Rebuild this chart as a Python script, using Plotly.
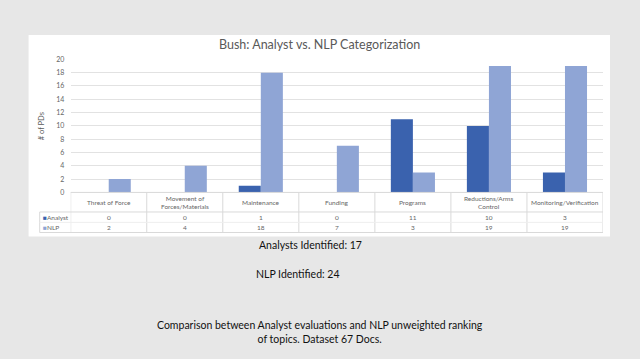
import plotly.graph_objects as go

categories = ["Threat of Force", "Movement of Forces/Materials", "Maintenance", "Funding",
              "Programs", "Reductions/Arms Control", "Monitoring/Verification"]
category_labels = ["Threat of Force", "Movement of<br>Forces/Materials", "Maintenance", "Funding",
                   "Programs", "Reductions/Arms<br>Control", "Monitoring/Verification"]
analyst = [0, 0, 1, 0, 11, 10, 3]
nlp = [2, 4, 18, 7, 3, 19, 19]
y_ticks = list(range(0, 21, 2))
title = "Bush: Analyst vs. NLP Categorization"
note_analyst = "Analysts Identified: 17"
note_nlp = "NLP Identified: 24"
caption = "Comparison between Analyst evaluations and NLP unweighted ranking<br>of topics. Dataset 67 Docs."

W, H = 640, 359
def px(x): return x / W
def py(y): return 1 - y / H

C_AN = "#3A62AE"
C_NLP = "#8FA5D5"
TXT = "#595959"
FONT = "Lato"

fig = go.Figure()
fig.add_trace(go.Bar(x=categories, y=analyst, name="Analyst", marker=dict(color=C_AN, line=dict(width=0))))
fig.add_trace(go.Bar(x=categories, y=nlp, name="NLP", marker=dict(color=C_NLP, line=dict(width=0))))

shapes = []
shapes.append(dict(type="rect", xref="paper", yref="paper", x0=px(28.6), x1=px(610), y0=py(236.7), y1=py(30.6),
                   fillcolor="white", line=dict(width=0), layer="below"))
LINE = dict(color="#d9d9d9", width=1)
n = len(categories)
for i in range(n + 1):
    shapes.append(dict(type="line", xref="x", yref="paper", x0=i - 0.5, x1=i - 0.5,
                       y0=py(232.7), y1=py(191.7), line=LINE))
shapes.append(dict(type="line", xref="paper", yref="paper", x0=px(39.7), x1=px(39.7),
                   y0=py(232.7), y1=py(211.7), line=LINE))
shapes.append(dict(type="line", xref="paper", yref="paper", x0=px(39.7), x1=px(603),
                   y0=py(211.7), y1=py(211.7), line=LINE))
shapes.append(dict(type="line", xref="paper", yref="paper", x0=px(39.7), x1=px(603),
                   y0=py(222.3), y1=py(222.3), line=dict(color="#eeeeee", width=1)))
shapes.append(dict(type="line", xref="paper", yref="paper", x0=px(39.7), x1=px(603),
                   y0=py(232.7), y1=py(232.7), line=LINE))
shapes.append(dict(type="line", xref="paper", yref="paper", x0=px(70.7), x1=px(603),
                   y0=py(191.7), y1=py(191.7), line=LINE))

TF = dict(family=FONT, size=6.5, color="#666666")
ann = []
ann.append(dict(text=title, xref="paper", yref="paper", x=px(319), y=py(40),
                showarrow=False, font=dict(family=FONT, size=12.5, color=TXT), xanchor="center", yanchor="middle"))
ann.append(dict(text="# of PDs", xref="paper", yref="paper", x=px(41), y=py(124), textangle=-90,
                showarrow=False, font=dict(family=FONT, size=7.5, color=TXT), xanchor="center", yanchor="middle"))
for c, lab, a, b in zip(categories, category_labels, analyst, nlp):
    ann.append(dict(text=lab, xref="x", yref="paper", x=c, y=py(201.7), showarrow=False,
                    font=TF, xanchor="center", yanchor="middle"))
    ann.append(dict(text=str(a), xref="x", yref="paper", x=c, y=py(217.3), showarrow=False,
                    font=TF, xanchor="center", yanchor="middle"))
    ann.append(dict(text=str(b), xref="x", yref="paper", x=c, y=py(227.8), showarrow=False,
                    font=TF, xanchor="center", yanchor="middle"))
ann.append(dict(text=f"<span style='color:{C_AN}'>■</span>Analyst", xref="paper", yref="paper", x=px(40.5), y=py(217.3),
                showarrow=False, font=TF, xanchor="left", yanchor="middle"))
ann.append(dict(text=f"<span style='color:{C_NLP}'>■</span>NLP", xref="paper", yref="paper", x=px(40.5), y=py(227.8),
                showarrow=False, font=TF, xanchor="left", yanchor="middle"))
BF = dict(family=FONT, size=10.5, color="#111111")
ann.append(dict(text=note_analyst, xref="paper", yref="paper", x=px(310), y=py(245),
                showarrow=False, font=BF, xanchor="center", yanchor="middle"))
ann.append(dict(text=note_nlp, xref="paper", yref="paper", x=px(298), y=py(275),
                showarrow=False, font=BF, xanchor="center", yanchor="middle"))
ann.append(dict(text=caption, xref="paper", yref="paper", x=px(320), y=py(334),
                showarrow=False, font=BF, xanchor="center", yanchor="middle"))

fig.update_layout(
    width=W, height=H, margin=dict(l=0, r=0, t=0, b=0),
    paper_bgcolor="#e7e7e7", plot_bgcolor="#f3f3f3",
    barmode="group", bargap=0.42, bargroupgap=0,
    showlegend=False, shapes=shapes, annotations=ann,
    xaxis=dict(domain=[px(70.7), px(603)], showticklabels=False, showgrid=False, zeroline=False,
               range=[-0.5, n - 0.5], fixedrange=True),
    yaxis=dict(domain=[py(191.7), py(55.6)], range=[0, 20], tickvals=y_ticks, showgrid=True,
               gridcolor="#e2e2e2", gridwidth=1, zeroline=False, ticks="outside", ticklen=4,
               tickcolor="rgba(0,0,0,0)", tickfont=dict(family=FONT, size=7, color="#666666")),
)
fig.write_html("out.html", config={"displayModeBar": False},
               post_script="document.body.style.margin='0px';document.body.style.overflow='hidden';")
